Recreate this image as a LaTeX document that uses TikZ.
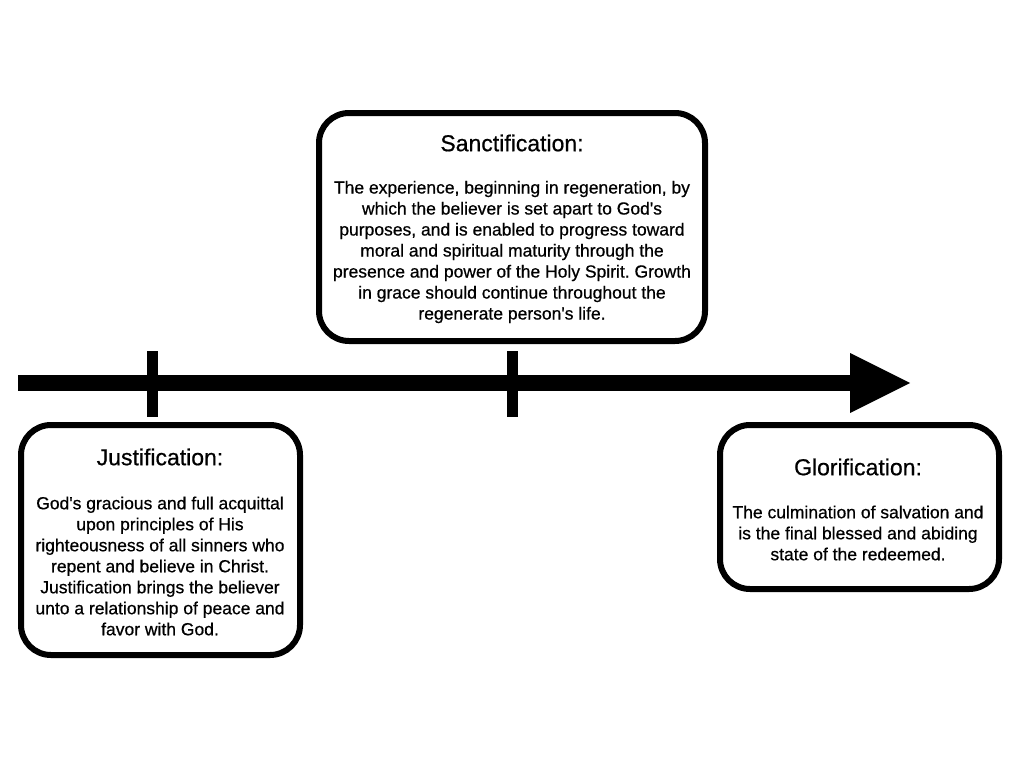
\documentclass[tikz,border=0pt]{standalone}
\usepackage{fontspec}
\setmainfont{Liberation Sans}[FakeBold=0.6]
\begin{document}
\frenchspacing
\begin{tikzpicture}[x=1pt,y=-1pt,
  box/.style={draw=black,line width=6pt,rounded corners=30pt,fill=white,inner sep=0pt},
  title/.style={font=\fontsize{23}{27}\selectfont,inner sep=0pt},
  body/.style={font=\fontsize{17.5}{21}\selectfont,align=center,inner sep=0pt},
  tick/.style={line width=11pt},
  axis/.style={line width=16pt}]
\useasboundingbox (0,0) rectangle (1024,768);
% timeline
\coordinate (tl0) at (18,383);
\coordinate (tl1) at (852,383);
\coordinate (tipA) at (850,353);
\coordinate (tipB) at (850,413);
\coordinate (tip) at (910,383);
\draw[axis] (tl0) -- (tl1);
\fill (tipA) -- (tip) -- (tipB) -- cycle;
\coordinate (t1a) at (152,351);
\coordinate (t1b) at (152,417);
\coordinate (t2a) at (512,351);
\coordinate (t2b) at (512,417);
\draw[tick] (t1a) -- (t1b);
\draw[tick] (t2a) -- (t2b);
% boxes
\node[box,minimum width=279pt,minimum height=230pt] (jbox) at (160.5,540) {};
\node[box,minimum width=386pt,minimum height=228pt] (sbox) at (512,227) {};
\node[box,minimum width=279pt,minimum height=164pt] (gbox) at (859.5,507) {};
% texts
\node[title] (jt) at (160,457) {Justification:};
\node[body] (jb) at (160,566) {God\textquotesingle s gracious and full acquittal\\upon principles of His\\righteousness of all sinners who\\repent and believe in Christ.\\Justification brings the believer\\unto a relationship of peace and\\favor with God.};
\node[title] (st) at (512,143) {Sanctification:};
\node[body] (sb) at (512,252) {The experience, beginning in regeneration, by\\which the believer is set apart to God\textquotesingle s\\purposes, and is enabled to progress toward\\moral and spiritual maturity through the\\presence and power of the Holy Spirit. Growth\\in grace should continue throughout the\\regenerate person\textquotesingle s life.};
\node[title] (gt) at (858,467) {Glorification:};
\node[body] (gb) at (858,533) {The culmination of salvation and\\is the final blessed and abiding\\state of the redeemed.};
\end{tikzpicture}
\end{document}
